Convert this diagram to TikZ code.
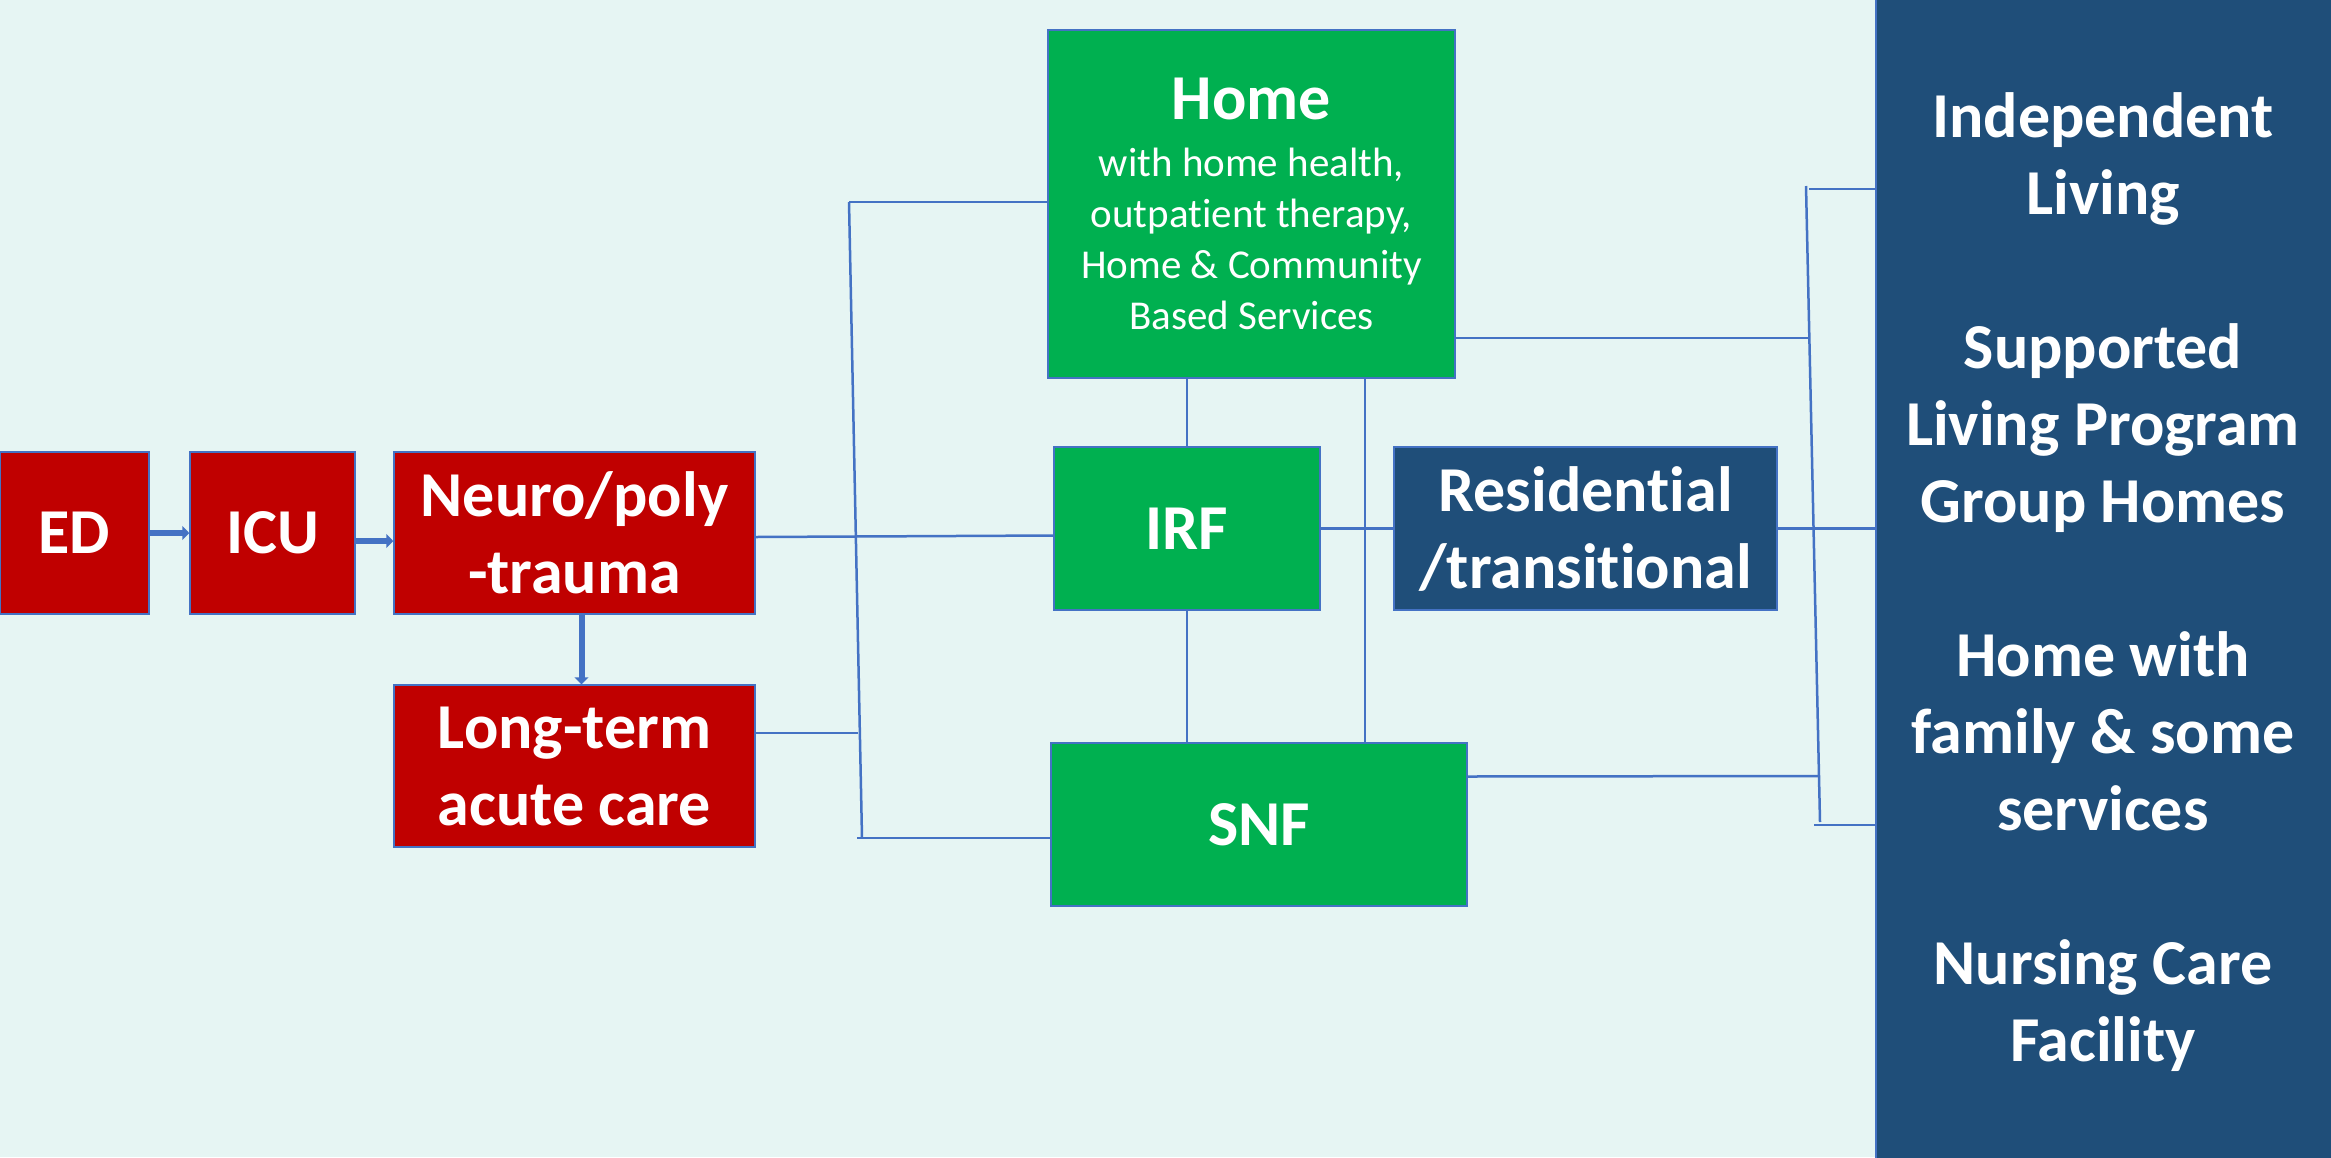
\documentclass[tikz,border=0pt]{standalone}
\usepackage{fontspec}
\setmainfont[Ligatures=NoCommon]{Carlito}
\usetikzlibrary{arrows.meta,calc}
\definecolor{bg}{HTML}{E6F5F3}
\definecolor{boxred}{HTML}{C00000}
\definecolor{boxgreen}{HTML}{00B050}
\definecolor{navy}{HTML}{1F4E79}
\definecolor{link}{HTML}{4472C4}
\begin{document}
\begin{tikzpicture}[x=1pt,y=-1pt,
  box/.style={draw=link, line width=1.5pt, inner sep=0pt, text=white, align=center,
    font=\fontsize{64}{77}\selectfont\bfseries},
  redbox/.style={box, fill=boxred},
  greenbox/.style={box, fill=boxgreen},
  navybox/.style={box, fill=navy},
  conn/.style={draw=link, line width=2.5pt},
  flow/.style={draw=link, line width=6pt, -{Triangle[length=7pt,width=14pt]}},
]
\fill[bg] (0,0) rectangle (2331,1157);
\useasboundingbox (0,0) rectangle (2331,1157);

% right panel
\node[navybox, draw=link, line width=2pt, minimum width=470pt, minimum height=1170pt, anchor=north west] (panel) at (1875,-5) {};
\node[text=white, align=center, font=\fontsize{64}{77}\selectfont\bfseries] (outcomes) at (2103,582)
  {Independent\\Living\\[77pt]Supported\\Living Program\\Group Homes\\[77pt]Home with\\family \& some\\services\\[77pt]Nursing Care\\Facility};

% boxes
\node[redbox, minimum width=149pt, minimum height=162pt] (ed) at (74.5,533) {ED};
\node[redbox, minimum width=165pt, minimum height=162pt] (icu) at (272.5,533) {ICU};
\node[redbox, minimum width=361pt, minimum height=162pt] (neuro) at (574.5,533) {Neuro/poly\\-trauma};
\node[redbox, minimum width=361pt, minimum height=162pt] (ltac) at (574.5,766) {Long-term\\acute care};
\node[greenbox, minimum width=407pt, minimum height=348pt, font=\fontsize{41}{51}\selectfont] (home) at (1251.5,204)
  {{\fontsize{64}{77}\selectfont\bfseries Home}\\[6pt]with home health,\\outpatient therapy,\\Home \& Community\\Based Services};
\node[greenbox, minimum width=266pt, minimum height=163pt] (irf) at (1187,528.5) {IRF};
\node[navybox, minimum width=383pt, minimum height=163pt] (res) at (1585.5,528.5) {Residential\\/transitional};
\node[greenbox, minimum width=416pt, minimum height=163pt] (snf) at (1259,824.5) {SNF};

% flow arrows
\draw[flow] (ed.east) -- (icu.west);
\draw[flow] ($(icu.east)+(0,8)$) -- ($(neuro.west)+(0,8)$);
\draw[flow] ($(neuro.south)+(7,0)$) -- ($(ltac.north)+(7,0)$);

% left bracket
\coordinate (lbt) at (849,202);
\coordinate (lbb) at (862,838);
\coordinate (lbl) at (858,733);
\coordinate (lbs) at (857,838);
\draw[conn] (lbt) -- (lbb);
\draw[conn] (lbt) -- (lbt -| home.west);
\draw[conn] (lbs) -- (lbs -| snf.west);
\draw[conn] ($(ltac.east)+(0,-33)$) -- (lbl);
\draw[conn] ($(neuro.east)+(0,4)$) -- ($(irf.west)+(0,7)$);

% middle links
\coordinate (vx) at (1365,0);
\draw[conn] (irf.north) -- (irf.north |- home.south);
\draw[conn] (irf.south) -- (irf.south |- snf.north);
\draw[conn] (home.south -| vx) -- (snf.north -| vx);
\draw[conn] (irf.east) -- (res.west);
\draw[conn] (res.east) -- (res.east -| panel.west);

% right bracket
\coordinate (rbt) at (1806,186);
\coordinate (rbb) at (1820,822);
\coordinate (rbh) at (1809,338);
\coordinate (rbs) at (1819,776);
\coordinate (rbtop) at (1809,189);
\coordinate (rbbot) at (1814,825);
\draw[conn] (rbt) -- (rbb);
\draw[conn] (rbtop) -- (rbtop -| panel.west);
\draw[conn] (rbbot) -- (rbbot -| panel.west);
\draw[conn] ($(home.east)+(0,134)$) -- (rbh);
\draw[conn] ($(snf.east)+(0,-48)$) -- (rbs);
\end{tikzpicture}
\end{document}
